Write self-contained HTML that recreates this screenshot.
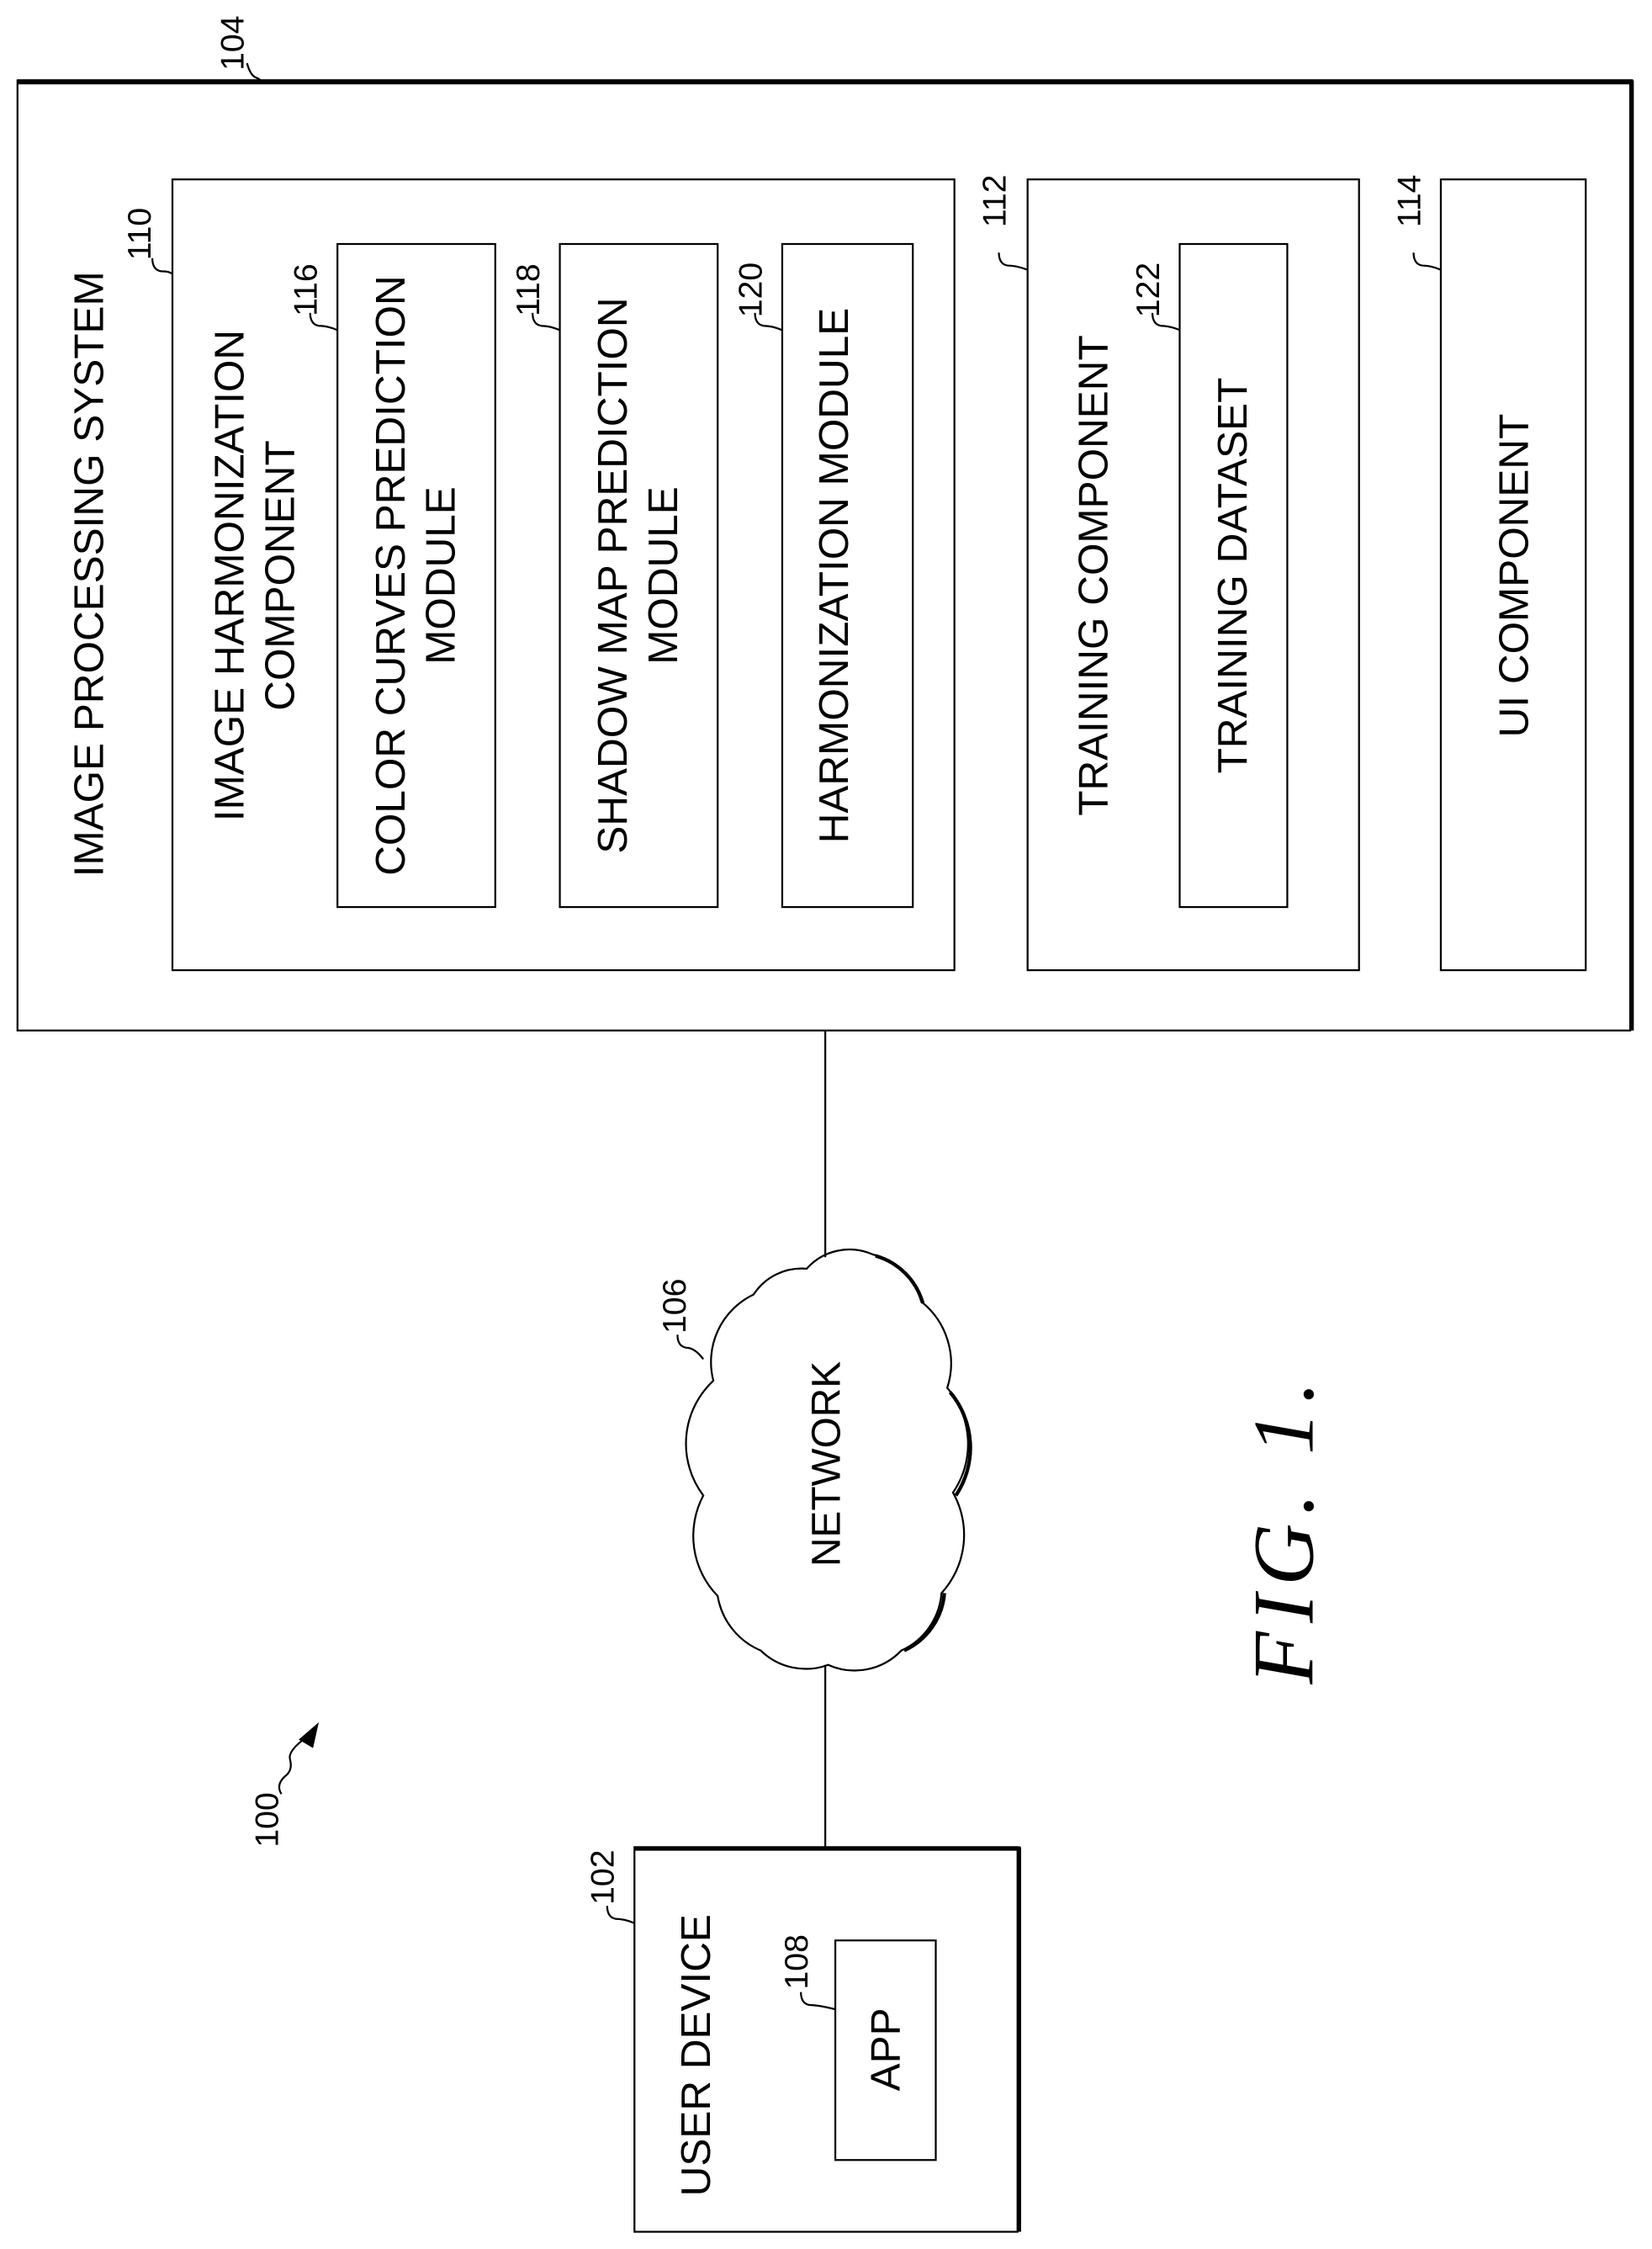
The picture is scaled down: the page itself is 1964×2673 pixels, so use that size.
<!DOCTYPE html>
<html><head><meta charset="utf-8"><style>
html,body{margin:0;padding:0;background:#fff;}
svg{display:block;}
text{font-family:"Liberation Sans",Arial,sans-serif;fill:#000;}
</style></head><body>
<svg width="1964" height="2673" viewBox="0 0 1151 1567" xmlns="http://www.w3.org/2000/svg">
<g fill="none" stroke="#000" stroke-width="1.3">
<rect x="12" y="56" width="1124" height="662"/>
<line x1="12" y1="57" x2="1138" y2="57" stroke-width="3.5"/>
<line x1="1137" y1="56" x2="1137" y2="718" stroke-width="3"/>
<rect x="120" y="125" width="545" height="551"/>
<rect x="716" y="125" width="231" height="551"/>
<rect x="1004" y="125" width="101" height="551"/>
<rect x="235" y="170" width="110" height="462"/>
<rect x="390" y="170" width="110" height="462"/>
<rect x="545" y="170" width="91" height="462"/>
<rect x="822" y="170" width="75" height="462"/>
<line x1="575" y1="718" x2="575" y2="876"/>
<line x1="575" y1="1160" x2="575" y2="1287"/>
<rect x="442" y="1287" width="267" height="268"/>
<line x1="442" y1="1288" x2="711" y2="1288" stroke-width="3"/>
<line x1="710" y1="1287" x2="710" y2="1555" stroke-width="3"/>
<rect x="582" y="1352" width="70" height="153"/>
<path d="M562 884 A40 40 0 0 1 608 874 A48 48 0 0 1 642 907 A55 55 0 0 1 660 967 A60 60 0 0 1 664 1040 A60 60 0 0 1 656 1110 A48 48 0 0 1 628 1150 A45 45 0 0 1 577 1160 A45 45 0 0 1 530 1150 A50 50 0 0 1 500 1112 A60 60 0 0 1 490 1042 A60 60 0 0 1 497 962 A52 52 0 0 1 525 902 A40 40 0 0 1 562 884 Z"/>
<path d="M610 875 A48 48 0 0 1 643 908 M662 970 A60 60 0 0 1 666 1042 M658 1110 A48 48 0 0 1 630 1150" stroke-width="2.5"/>
<path d="M172 44 q2 8 6 10 q3 1 4 3"/>
<path d="M106 180 q0 8 6 9 q6 0 8 2"/>
<path d="M216 218 q0 8 6 9 q6 0 13 3"/>
<path d="M371 218 q0 8 6 9 q6 0 13 3"/>
<path d="M526 218 q0 8 6 9 q6 0 13 3"/>
<path d="M696 176 q0 8 6 9 q6 0 14 3"/>
<path d="M803 218 q0 8 6 9 q6 0 13 3"/>
<path d="M985 176 q0 8 6 9 q6 0 13 3"/>
<path d="M472 930 q0 8 6 9 q6 0 12 8"/>
<path d="M423 1328 q0 8 6 9 q6 0 13 3"/>
<path d="M558 1388 q0 8 6 9 q6 0 18 3"/>
<path d="M196 1250 q-4 -6 2 -12 q6 -4 4 -12 q-2 -6 12 -16"/>
</g>
<polygon points="222,1200 208,1212 218,1218" fill="#000"/>
<g font-size="29">
<text transform="translate(62,400) rotate(-90)" text-anchor="middle" dominant-baseline="central">IMAGE PROCESSING SYSTEM</text>
<text transform="translate(160,401) rotate(-90)" text-anchor="middle" dominant-baseline="central">IMAGE HARMONIZATION</text>
<text transform="translate(195,401) rotate(-90)" text-anchor="middle" dominant-baseline="central">COMPONENT</text>
<text transform="translate(272,401) rotate(-90)" text-anchor="middle" dominant-baseline="central">COLOR CURVES PREDICTION</text>
<text transform="translate(307,401) rotate(-90)" text-anchor="middle" dominant-baseline="central">MODULE</text>
<text transform="translate(427,401) rotate(-90)" text-anchor="middle" dominant-baseline="central">SHADOW MAP PREDICTION</text>
<text transform="translate(462,401) rotate(-90)" text-anchor="middle" dominant-baseline="central">MODULE</text>
<text transform="translate(581,401) rotate(-90)" text-anchor="middle" dominant-baseline="central">HARMONIZATION MODULE</text>
<text transform="translate(762,401) rotate(-90)" text-anchor="middle" dominant-baseline="central">TRAINING COMPONENT</text>
<text transform="translate(859,401) rotate(-90)" text-anchor="middle" dominant-baseline="central">TRAINING DATASET</text>
<text transform="translate(1055,401) rotate(-90)" text-anchor="middle" dominant-baseline="central">UI COMPONENT</text>
<text transform="translate(485,1432) rotate(-90)" text-anchor="middle" dominant-baseline="central">USER DEVICE</text>
<text transform="translate(617,1428) rotate(-90)" text-anchor="middle" dominant-baseline="central">APP</text>
</g>
<text transform="translate(576,1020) rotate(-90)" text-anchor="middle" dominant-baseline="central" font-size="28">NETWORK</text>
<g font-size="23">
<text transform="translate(162,30) rotate(-90)" text-anchor="middle" dominant-baseline="central">104</text>
<text transform="translate(97,163) rotate(-90)" text-anchor="middle" dominant-baseline="central">110</text>
<text transform="translate(213,202) rotate(-90)" text-anchor="middle" dominant-baseline="central">116</text>
<text transform="translate(368,202) rotate(-90)" text-anchor="middle" dominant-baseline="central">118</text>
<text transform="translate(523,202) rotate(-90)" text-anchor="middle" dominant-baseline="central">120</text>
<text transform="translate(693,140) rotate(-90)" text-anchor="middle" dominant-baseline="central">112</text>
<text transform="translate(800,202) rotate(-90)" text-anchor="middle" dominant-baseline="central">122</text>
<text transform="translate(982,140) rotate(-90)" text-anchor="middle" dominant-baseline="central">114</text>
<text transform="translate(470,910) rotate(-90)" text-anchor="middle" dominant-baseline="central">106</text>
<text transform="translate(420,1308) rotate(-90)" text-anchor="middle" dominant-baseline="central">102</text>
<text transform="translate(555,1367) rotate(-90)" text-anchor="middle" dominant-baseline="central">108</text>
<text transform="translate(186,1268) rotate(-90)" text-anchor="middle" dominant-baseline="central">100</text>
</g>
<text transform="translate(895,1065) rotate(-90)" text-anchor="middle" dominant-baseline="central" font-style="italic" font-size="60" letter-spacing="6" style="font-family:'Liberation Serif',serif">FIG. 1.</text>
</svg>
</body></html>
